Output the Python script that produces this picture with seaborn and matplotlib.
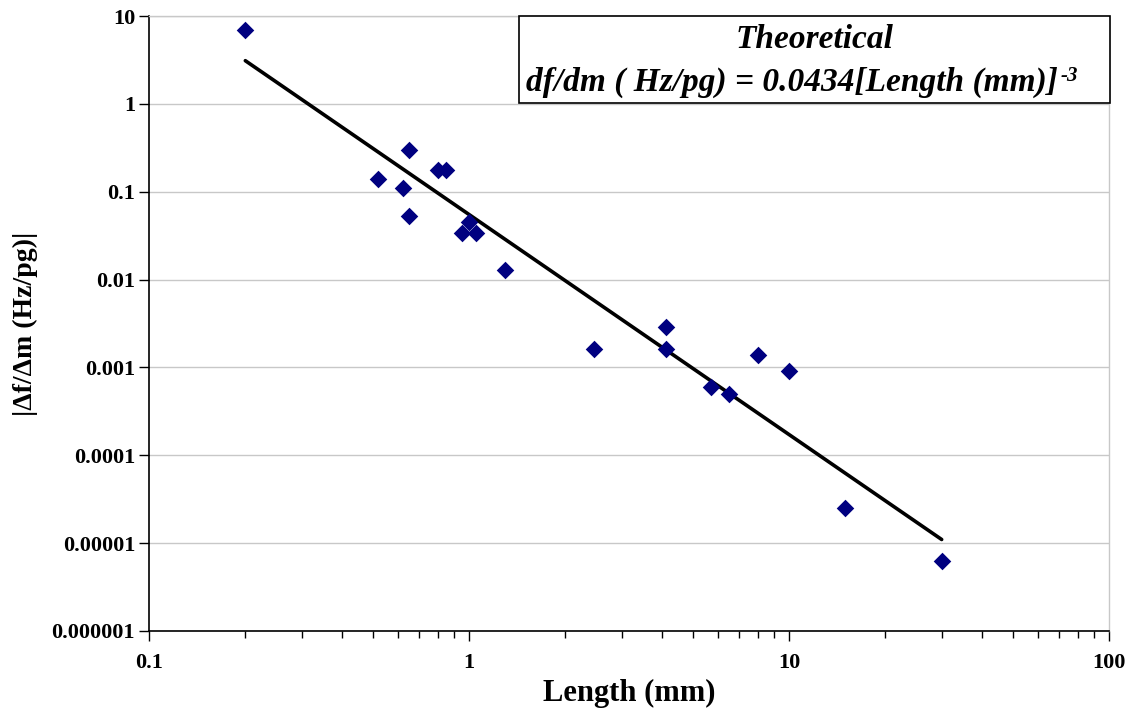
import numpy as np
import pandas as pd
import matplotlib
matplotlib.use("Agg")
import matplotlib.pyplot as plt
import seaborn as sns
from matplotlib.patches import Rectangle
from matplotlib.ticker import LogLocator, NullFormatter

# ---- data ----
length_mm = [0.2, 0.52, 0.65, 0.62, 0.65, 0.8, 0.85, 0.95, 1.0, 1.05, 1.3,
             2.45, 4.13, 4.13, 5.7, 6.5, 8.0, 10.0, 15.0, 30.0]
dfdm = [7.0, 0.14, 0.30, 0.11, 0.053, 0.177, 0.177, 0.034, 0.045, 0.034, 0.013,
        0.0016, 0.0029, 0.0016, 0.0006, 0.0005, 0.0014, 0.0009, 0.000025, 0.0000063]
fit_x = [0.2, 30.0]
fit_y = [3.1, 1.1e-5]
ytick_vals = [10, 1, 0.1, 0.01, 0.001, 0.0001, 0.00001, 0.000001]
ytick_labels = ["10", "1", "0.1", "0.01", "0.001", "0.0001", "0.00001", "0.000001"]
xtick_vals = [0.1, 1, 10, 100]
xtick_labels = ["0.1", "1", "10", "100"]

pts = pd.DataFrame({"x": length_mm, "y": dfdm})
fit = pd.DataFrame({"x": fit_x, "y": fit_y})

sns.set_theme(style="white")
plt.rcParams["font.family"] = ["Liberation Serif", "DejaVu Serif"]
plt.rcParams["text.color"] = "black"
plt.rcParams["axes.labelcolor"] = "black"
plt.rcParams["xtick.color"] = "black"
plt.rcParams["ytick.color"] = "black"

fig = plt.figure(figsize=(11.34, 7.09), dpi=100)
ax = fig.add_axes([149/1134, 1-631/709, (1109-149)/1134, (631-16)/709])

ax.set_xscale("log")
ax.set_yscale("log")
ax.set_xlim(0.1, 100)
ax.set_ylim(1e-6, 10)

for v in ytick_vals:
    ax.axhline(v, color="#c8c8c8", lw=1.0, zorder=0)

sns.lineplot(data=fit, x="x", y="y", ax=ax, color="black", lw=2.6, zorder=2)
sns.scatterplot(data=pts, x="x", y="y", ax=ax, marker="D", s=80,
                color="#000080", linewidth=0, zorder=3)

ax.set_yticks(ytick_vals)
ax.set_yticklabels(ytick_labels, fontsize=16, fontweight="bold")
ax.set_xticks(xtick_vals)
ax.set_xticklabels(xtick_labels, fontsize=16, fontweight="bold")
ax.xaxis.set_minor_locator(LogLocator(base=10, subs=np.arange(2, 10)))
ax.xaxis.set_minor_formatter(NullFormatter())
ax.yaxis.set_minor_locator(plt.NullLocator())
ax.tick_params(axis="x", which="both", bottom=True, top=False)
ax.tick_params(axis="y", which="both", left=True, right=False)
ax.tick_params(axis="x", which="major", direction="out", length=7, width=1, color="black", pad=9)
ax.tick_params(axis="x", which="minor", direction="out", length=5, width=1, color="black")
ax.tick_params(axis="y", which="major", direction="out", length=7, width=1, color="black", pad=3)

for s in ["left", "bottom"]:
    ax.spines[s].set_color("black")
    ax.spines[s].set_linewidth(1.2)
for s in ["top", "right"]:
    ax.spines[s].set_color("#c8c8c8")
    ax.spines[s].set_linewidth(1.0)

ax.set_xlabel("Length (mm)", fontsize=22, fontweight="bold", labelpad=4)
ax.set_ylabel("|Δf/Δm (Hz/pg)|", fontsize=20, fontweight="bold", labelpad=10)

# Equation box (drawn in figure coordinates, above the data)
x0, x1 = 519/1134, 1110/1134
y0, y1 = 1-103/709, 1-16/709
ax.add_patch(Rectangle((x0, y0), x1-x0, y1-y0, transform=fig.transFigure,
                       facecolor="white", edgecolor="black", lw=1.2, zorder=5,
                       clip_on=False))
ax.text((x0+x1)/2, 1-39/709, "Theoretical", transform=fig.transFigure,
        ha="center", va="center", fontsize=24, fontweight="bold", style="italic",
        zorder=6, clip_on=False)
main = ax.text(526/1134, 1-82/709, "df/dm ( Hz/pg) = 0.0434[Length (mm)]",
               transform=fig.transFigure, ha="left", va="center", fontsize=24,
               fontweight="bold", style="italic", zorder=6, clip_on=False)
ax.annotate("-3", xy=(1.0, 1.0), xycoords=main, xytext=(2, 0), textcoords="offset points",
            ha="left", va="top", fontsize=15, fontweight="bold", style="italic",
            annotation_clip=False, zorder=7)

fig.savefig("out.png", dpi=100)
